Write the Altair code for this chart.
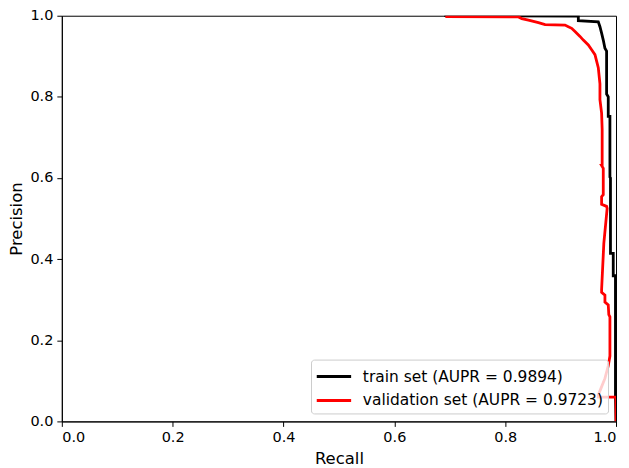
import altair as alt
import pandas as pd

series_labels = ["train set (AUPR = 0.9894)", "validation set (AUPR = 0.9723)"]
series_colors = ["#000000", "#ff0000"]

train_recall = [0.69, 0.932, 0.932, 0.968, 0.971, 0.974, 0.977, 0.980, 0.983, 0.983,
                0.986, 0.986, 0.989, 0.989, 0.990, 0.990, 0.995, 0.995, 0.999, 0.999, 1.0]
train_precision = [1.0, 0.999, 0.988, 0.985, 0.973, 0.957, 0.940, 0.920, 0.913, 0.807,
                   0.800, 0.752, 0.752, 0.602, 0.600, 0.414, 0.414, 0.359, 0.359, 0.06, 0.0]

val_recall = [0.692, 0.824, 0.830, 0.842, 0.860, 0.872, 0.908, 0.914, 0.920, 0.926,
              0.935, 0.941, 0.950, 0.956, 0.962, 0.965, 0.968, 0.971, 0.971, 0.974,
              0.975, 0.975, 0.974, 0.977, 0.977, 0.974, 0.974, 0.983, 0.984, 0.978,
              0.974, 0.974, 0.980, 0.980, 0.986, 0.987, 0.989, 0.989, 0.986, 0.980,
              0.973, 0.968, 0.968, 1.0, 1.0]
val_precision = [0.998, 0.997, 0.993, 0.989, 0.983, 0.978, 0.977, 0.973, 0.969, 0.961,
                 0.949, 0.940, 0.928, 0.916, 0.904, 0.888, 0.872, 0.832, 0.793, 0.760,
                 0.720, 0.631, 0.631, 0.624, 0.559, 0.554, 0.535, 0.530, 0.525, 0.439,
                 0.325, 0.318, 0.311, 0.294, 0.287, 0.263, 0.258, 0.161, 0.137, 0.106,
                 0.082, 0.065, 0.060, 0.060, 0.0]

tick_values = [0, 0.2, 0.4, 0.6, 0.8, 1.0]

rows = []
for i, (r, p) in enumerate(zip(train_recall, train_precision)):
    rows.append({"series": series_labels[0], "recall": r, "precision": p, "i": i})
for i, (r, p) in enumerate(zip(val_recall, val_precision)):
    rows.append({"series": series_labels[1], "recall": r, "precision": p, "i": i})
df = pd.DataFrame(rows)

font = "DejaVu Sans"

chart = alt.Chart(df).mark_line(strokeWidth=2.8, clip=True).encode(
    x=alt.X("recall:Q", title="Recall",
            scale=alt.Scale(domain=[0, 1], nice=False),
            axis=alt.Axis(values=tick_values, format=".1f")),
    y=alt.Y("precision:Q", title="Precision",
            scale=alt.Scale(domain=[0, 1], nice=False),
            axis=alt.Axis(values=tick_values, format=".1f")),
    color=alt.Color("series:N",
                    scale=alt.Scale(domain=series_labels, range=series_colors),
                    sort=series_labels,
                    legend=alt.Legend(title=None, orient="bottom-right", offset=8,
                                      symbolType="M-1.5,0H1.5", symbolSize=529,
                                      symbolOffset=6,
                                      symbolStrokeWidth=3, labelFontSize=15.5,
                                      labelFont=font, labelColor="#000000",
                                      fillColor="rgba(255,255,255,0.8)",
                                      strokeColor="#cccccc", cornerRadius=3,
                                      padding=4, rowPadding=2, labelOffset=16,
                                      labelLimit=400)),
    order=alt.Order("i:Q"),
    detail="series:N",
).properties(
    width=556, height=407,
    autosize=alt.AutoSizeParams(type="none"),
    padding={"left": 54, "top": 7, "right": 5, "bottom": 46},
).configure_view(
    stroke="#000000", strokeWidth=1
).configure_axis(
    grid=False, domainColor="#000000", tickColor="#000000", tickSize=5,
    labelFont=font, labelFontSize=14.5, labelColor="#000000",
    titleFont=font, titleFontSize=16.5, titleColor="#000000", titleFontWeight="normal",
    labelPadding=4,
).configure_axisX(titlePadding=7).configure_axisY(titlePadding=5)

chart.save("out.html", embed_options={"renderer": "svg", "actions": False})
